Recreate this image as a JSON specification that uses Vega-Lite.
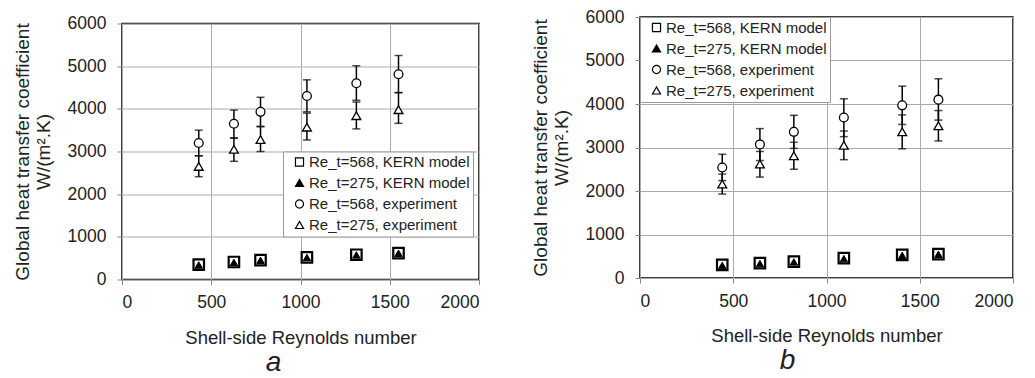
{
  "$schema": "https://vega.github.io/schema/vega-lite/v6.json",
  "padding": {"left": 12, "top": 7, "right": 0, "bottom": 0},
  "background": "white",
  "config": {
    "font": "Liberation Sans",
    "view": {"stroke": null},
    "axis": {
      "labelFont": "Liberation Sans", "labelFontSize": 17.5, "labelColor": "#222",
      "titleFont": "Liberation Sans", "titleFontSize": 18.5, "titleFontWeight": "normal", "titleColor": "#222",
      "gridColor": "#aaaaaa", "gridWidth": 1, "tickColor": "#888", "tickSize": 5, "domain": false, "format": "d"
    },
    "axisX": {"labelPadding": 9, "titlePadding": 17},
    "axisY": {"labelPadding": 11, "titlePadding": 14, "titleFontSize": 19},
    "legend": {
      "labelFont": "Liberation Sans", "labelFontSize": 15, "labelColor": "#222", "labelLimit": 400,
      "strokeColor": "#999", "fillColor": "white", "padding": 3, "rowPadding": 5,
      "symbolSize": 65, "symbolStrokeWidth": 1.2, "labelOffset": 2, "symbolOffset": 6
    },
    "title": {"font": "Liberation Sans", "fontSize": 28, "fontStyle": "italic", "fontWeight": "normal", "color": "#222"}
  },
  "datasets": {
    "pts": [
      {"panel": "a", "series": "Re_t=568, KERN model", "Re": 430, "U": 350},
      {"panel": "a", "series": "Re_t=568, KERN model", "Re": 627, "U": 410},
      {"panel": "a", "series": "Re_t=568, KERN model", "Re": 776, "U": 455},
      {"panel": "a", "series": "Re_t=568, KERN model", "Re": 1036, "U": 520},
      {"panel": "a", "series": "Re_t=568, KERN model", "Re": 1313, "U": 580},
      {"panel": "a", "series": "Re_t=568, KERN model", "Re": 1549, "U": 620},
      {"panel": "a", "series": "Re_t=275, KERN model", "Re": 430, "U": 340},
      {"panel": "a", "series": "Re_t=275, KERN model", "Re": 627, "U": 400},
      {"panel": "a", "series": "Re_t=275, KERN model", "Re": 776, "U": 450},
      {"panel": "a", "series": "Re_t=275, KERN model", "Re": 1036, "U": 515},
      {"panel": "a", "series": "Re_t=275, KERN model", "Re": 1313, "U": 575},
      {"panel": "a", "series": "Re_t=275, KERN model", "Re": 1549, "U": 615},
      {"panel": "a", "series": "Re_t=568, experiment", "Re": 430, "U": 3200, "lo": 2900, "hi": 3500},
      {"panel": "a", "series": "Re_t=568, experiment", "Re": 627, "U": 3650, "lo": 3310, "hi": 3970},
      {"panel": "a", "series": "Re_t=568, experiment", "Re": 776, "U": 3930, "lo": 3590, "hi": 4270},
      {"panel": "a", "series": "Re_t=568, experiment", "Re": 1036, "U": 4300, "lo": 3930, "hi": 4680},
      {"panel": "a", "series": "Re_t=568, experiment", "Re": 1313, "U": 4600, "lo": 4200, "hi": 5010},
      {"panel": "a", "series": "Re_t=568, experiment", "Re": 1549, "U": 4810, "lo": 4380, "hi": 5250},
      {"panel": "a", "series": "Re_t=275, experiment", "Re": 430, "U": 2650, "lo": 2410, "hi": 2900},
      {"panel": "a", "series": "Re_t=275, experiment", "Re": 627, "U": 3050, "lo": 2770, "hi": 3320},
      {"panel": "a", "series": "Re_t=275, experiment", "Re": 776, "U": 3280, "lo": 3000, "hi": 3580},
      {"panel": "a", "series": "Re_t=275, experiment", "Re": 1036, "U": 3570, "lo": 3270, "hi": 3900},
      {"panel": "a", "series": "Re_t=275, experiment", "Re": 1313, "U": 3840, "lo": 3530, "hi": 4160},
      {"panel": "a", "series": "Re_t=275, experiment", "Re": 1549, "U": 3980, "lo": 3660, "hi": 4380},
      {"panel": "b", "series": "Re_t=568, KERN model", "Re": 441, "U": 300},
      {"panel": "b", "series": "Re_t=568, KERN model", "Re": 643, "U": 340},
      {"panel": "b", "series": "Re_t=568, KERN model", "Re": 825, "U": 375},
      {"panel": "b", "series": "Re_t=568, KERN model", "Re": 1093, "U": 455},
      {"panel": "b", "series": "Re_t=568, KERN model", "Re": 1406, "U": 530},
      {"panel": "b", "series": "Re_t=568, KERN model", "Re": 1600, "U": 550},
      {"panel": "b", "series": "Re_t=275, KERN model", "Re": 441, "U": 290},
      {"panel": "b", "series": "Re_t=275, KERN model", "Re": 643, "U": 330},
      {"panel": "b", "series": "Re_t=275, KERN model", "Re": 825, "U": 370},
      {"panel": "b", "series": "Re_t=275, KERN model", "Re": 1093, "U": 445},
      {"panel": "b", "series": "Re_t=275, KERN model", "Re": 1406, "U": 520},
      {"panel": "b", "series": "Re_t=275, KERN model", "Re": 1600, "U": 545},
      {"panel": "b", "series": "Re_t=568, experiment", "Re": 441, "U": 2540, "lo": 2240, "hi": 2845},
      {"panel": "b", "series": "Re_t=568, experiment", "Re": 643, "U": 3070, "lo": 2700, "hi": 3434},
      {"panel": "b", "series": "Re_t=568, experiment", "Re": 825, "U": 3360, "lo": 2980, "hi": 3740},
      {"panel": "b", "series": "Re_t=568, experiment", "Re": 1093, "U": 3690, "lo": 3250, "hi": 4120},
      {"panel": "b", "series": "Re_t=568, experiment", "Re": 1406, "U": 3970, "lo": 3530, "hi": 4410},
      {"panel": "b", "series": "Re_t=568, experiment", "Re": 1600, "U": 4100, "lo": 3630, "hi": 4580},
      {"panel": "b", "series": "Re_t=275, experiment", "Re": 441, "U": 2160, "lo": 1930, "hi": 2390},
      {"panel": "b", "series": "Re_t=275, experiment", "Re": 643, "U": 2620, "lo": 2320, "hi": 2910},
      {"panel": "b", "series": "Re_t=275, experiment", "Re": 825, "U": 2810, "lo": 2500, "hi": 3120},
      {"panel": "b", "series": "Re_t=275, experiment", "Re": 1093, "U": 3050, "lo": 2720, "hi": 3380},
      {"panel": "b", "series": "Re_t=275, experiment", "Re": 1406, "U": 3360, "lo": 2970, "hi": 3750},
      {"panel": "b", "series": "Re_t=275, experiment", "Re": 1600, "U": 3500, "lo": 3150, "hi": 3850}
    ]
  },
  "spacing": 49,
  "resolve": {
    "scale": {"x": "independent", "y": "independent", "shape": "independent", "fill": "independent", "stroke": "independent"},
    "legend": {"shape": "independent", "fill": "independent", "stroke": "independent"}
  },
  "hconcat": [
    {
      "spacing": -4.5,
      "resolve": {
        "scale": {"x": "independent", "y": "independent", "shape": "independent", "fill": "independent", "stroke": "independent"},
        "legend": {"shape": "independent", "fill": "independent", "stroke": "independent"}
      },
      "vconcat": [
        {
          "width": 1, "height": 1,
          "data": {"values": []},
          "mark": {"type": "text", "text": ""},
          "encoding": {}
        },
        {
          "width": 357, "height": 256,
          "view": {"stroke": "black", "strokeWidth": 1.5},
          "title": {"text": "a", "orient": "bottom", "dx": -27, "offset": 2},
          "data": {"name": "pts"},
          "transform": [{"filter": "datum.panel == 'a'"}],
          "encoding": {
            "x": {"field": "Re", "type": "quantitative", "scale": {"domain": [0, 2000], "nice": false}, "axis": {"values": [0, 500, 1000, 1500, 2000]}, "title": "Shell-side Reynolds number"},
            "shape": {"field": "series", "type": "nominal", "title": null,
              "scale": {"domain": ["Re_t=568, KERN model", "Re_t=275, KERN model", "Re_t=568, experiment", "Re_t=275, experiment"], "range": ["square", "triangle-up", "circle", "triangle-up"]},
              "legend": {"orient": "none", "legendX": 161, "legendY": 128}},
            "fill": {"field": "series", "type": "nominal", "title": null,
              "scale": {"domain": ["Re_t=568, KERN model", "Re_t=275, KERN model", "Re_t=568, experiment", "Re_t=275, experiment"], "range": ["white", "black", "white", "white"]},
              "legend": {"orient": "none", "legendX": 161, "legendY": 128}},
            "stroke": {"field": "series", "type": "nominal", "title": null,
              "scale": {"domain": ["Re_t=568, KERN model", "Re_t=275, KERN model", "Re_t=568, experiment", "Re_t=275, experiment"], "range": ["black", "black", "black", "black"]},
              "legend": {"orient": "none", "legendX": 161, "legendY": 128}}
          },
          "layer": [
            {
              "transform": [{"filter": "datum.lo != null"}],
              "mark": {"type": "rule", "color": "black", "strokeWidth": 1.5},
              "encoding": {
                "shape": null, "fill": null, "stroke": null,
                "y": {"field": "lo", "type": "quantitative", "scale": {"domain": [0, 6000], "nice": false}, "axis": {"values": [0, 1000, 2000, 3000, 4000, 5000, 6000]}, "title": ["Global heat transfer coefficient", "W/(m².K)"]},
                "y2": {"field": "hi"}
              }
            },
            {
              "transform": [{"filter": "datum.lo != null"}],
              "mark": {"type": "tick", "orient": "horizontal", "color": "black", "size": 8, "thickness": 1.5},
              "encoding": {
                "shape": null, "fill": null, "stroke": null,
                "y": {"field": "lo", "type": "quantitative", "title": ["Global heat transfer coefficient", "W/(m².K)"]}
              }
            },
            {
              "transform": [{"filter": "datum.lo != null"}],
              "mark": {"type": "tick", "orient": "horizontal", "color": "black", "size": 8, "thickness": 1.5},
              "encoding": {
                "shape": null, "fill": null, "stroke": null,
                "y": {"field": "hi", "type": "quantitative", "title": ["Global heat transfer coefficient", "W/(m².K)"]}
              }
            },
            {
              "transform": [{"filter": "datum.series == 'Re_t=568, KERN model'"}],
              "mark": {"type": "point", "filled": true, "opacity": 1, "size": 110, "strokeWidth": 2.2},
              "encoding": {"y": {"field": "U", "type": "quantitative", "title": ["Global heat transfer coefficient", "W/(m².K)"]}}
            },
            {
              "transform": [{"filter": "datum.series == 'Re_t=275, KERN model'"}],
              "mark": {"type": "point", "filled": true, "opacity": 1, "size": 55, "strokeWidth": 1},
              "encoding": {"y": {"field": "U", "type": "quantitative", "title": ["Global heat transfer coefficient", "W/(m².K)"]}}
            },
            {
              "transform": [{"filter": "datum.lo != null"}],
              "mark": {"type": "point", "filled": true, "opacity": 1, "size": 78, "strokeWidth": 1.3},
              "encoding": {"y": {"field": "U", "type": "quantitative", "title": ["Global heat transfer coefficient", "W/(m².K)"]}}
            }
          ]
        }
      ]
    },
    {
      "width": 373, "height": 261,
      "view": {"stroke": "black", "strokeWidth": 1.5},
      "title": {"text": "b", "orient": "bottom", "dx": -39, "offset": 2},
      "data": {"name": "pts"},
      "transform": [{"filter": "datum.panel == 'b'"}],
      "encoding": {
        "x": {"field": "Re", "type": "quantitative", "scale": {"domain": [0, 2000], "nice": false}, "axis": {"values": [0, 500, 1000, 1500, 2000]}, "title": "Shell-side Reynolds number"},
        "shape": {"field": "series", "type": "nominal", "title": null,
          "scale": {"domain": ["Re_t=568, KERN model", "Re_t=275, KERN model", "Re_t=568, experiment", "Re_t=275, experiment"], "range": ["square", "triangle-up", "circle", "triangle-up"]},
          "legend": {"orient": "top-left", "offset": 0}},
        "fill": {"field": "series", "type": "nominal", "title": null,
          "scale": {"domain": ["Re_t=568, KERN model", "Re_t=275, KERN model", "Re_t=568, experiment", "Re_t=275, experiment"], "range": ["white", "black", "white", "white"]},
          "legend": {"orient": "top-left", "offset": 0}},
        "stroke": {"field": "series", "type": "nominal", "title": null,
          "scale": {"domain": ["Re_t=568, KERN model", "Re_t=275, KERN model", "Re_t=568, experiment", "Re_t=275, experiment"], "range": ["black", "black", "black", "black"]},
          "legend": {"orient": "top-left", "offset": 0}}
      },
      "layer": [
        {
          "transform": [{"filter": "datum.lo != null"}],
          "mark": {"type": "rule", "color": "black", "strokeWidth": 1.5},
          "encoding": {
            "shape": null, "fill": null, "stroke": null,
            "y": {"field": "lo", "type": "quantitative", "scale": {"domain": [0, 6000], "nice": false}, "axis": {"values": [0, 1000, 2000, 3000, 4000, 5000, 6000]}, "title": ["Global heat transfer coefficient", "W/(m².K)"]},
            "y2": {"field": "hi"}
          }
        },
        {
          "transform": [{"filter": "datum.lo != null"}],
          "mark": {"type": "tick", "orient": "horizontal", "color": "black", "size": 8, "thickness": 1.5},
          "encoding": {
            "shape": null, "fill": null, "stroke": null,
            "y": {"field": "lo", "type": "quantitative", "title": ["Global heat transfer coefficient", "W/(m².K)"]}
          }
        },
        {
          "transform": [{"filter": "datum.lo != null"}],
          "mark": {"type": "tick", "orient": "horizontal", "color": "black", "size": 8, "thickness": 1.5},
          "encoding": {
            "shape": null, "fill": null, "stroke": null,
            "y": {"field": "hi", "type": "quantitative", "title": ["Global heat transfer coefficient", "W/(m².K)"]}
          }
        },
        {
          "transform": [{"filter": "datum.series == 'Re_t=568, KERN model'"}],
          "mark": {"type": "point", "filled": true, "opacity": 1, "size": 110, "strokeWidth": 2.2},
          "encoding": {"y": {"field": "U", "type": "quantitative", "title": ["Global heat transfer coefficient", "W/(m².K)"]}}
        },
        {
          "transform": [{"filter": "datum.series == 'Re_t=275, KERN model'"}],
          "mark": {"type": "point", "filled": true, "opacity": 1, "size": 55, "strokeWidth": 1},
          "encoding": {"y": {"field": "U", "type": "quantitative", "title": ["Global heat transfer coefficient", "W/(m².K)"]}}
        },
        {
          "transform": [{"filter": "datum.lo != null"}],
          "mark": {"type": "point", "filled": true, "opacity": 1, "size": 78, "strokeWidth": 1.3},
          "encoding": {"y": {"field": "U", "type": "quantitative", "title": ["Global heat transfer coefficient", "W/(m².K)"]}}
        }
      ]
    }
  ]
}
